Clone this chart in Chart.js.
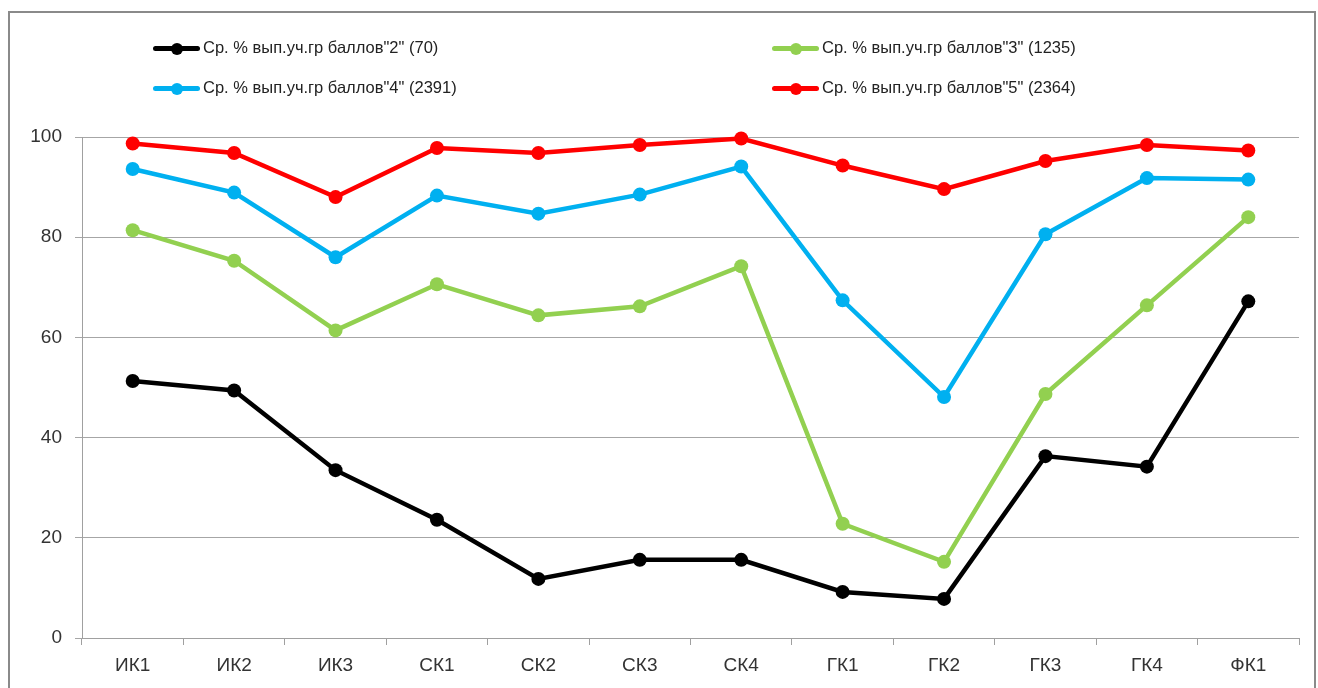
<!DOCTYPE html>
<html>
<head>
<meta charset="utf-8">
<script src="https://cdn.jsdelivr.net/npm/chart.js@4/dist/chart.umd.min.js"></script>
<style>
  html, body { margin: 0; padding: 0; background: #fff; }
  #wrap { position: relative; width: 1318px; height: 688px; overflow: hidden; }
  #frame { position: absolute; left: 8px; top: 11px; width: 1304px; height: 700px; border: 2px solid #8a8a8a; }
  canvas { position: absolute; left: 0; top: 0; }
  .leg { position: absolute; height: 22px; font: 16.5px "Liberation Sans", Arial, sans-serif; color: #222; white-space: nowrap; }
  .leg .ln { position: absolute; left: 0; top: 8px; width: 47px; height: 5px; border-radius: 2.5px; }
  .leg .dot { position: absolute; left: 18px; top: 4.5px; width: 12px; height: 12px; border-radius: 50%; }
  .leg .tx { position: absolute; left: 50px; top: 0px; }
</style>
</head>
<body>
<div id="wrap">
  <div id="frame"></div>
  <canvas id="chart" width="1318" height="688"></canvas>
  <div id="legend"></div>
</div>
<script>
const categories = ['ИК1', 'ИК2', 'ИК3', 'СК1', 'СК2', 'СК3', 'СК4', 'ГК1', 'ГК2', 'ГК3', 'ГК4', 'ФК1'];

const seriesNames = [
  'Ср. % вып.уч.гр баллов"2" (70)',
  'Ср. % вып.уч.гр баллов"3" (1235)',
  'Ср. % вып.уч.гр баллов"4" (2391)',
  'Ср. % вып.уч.гр баллов"5" (2364)'
];

const score2 = [51.3, 49.4, 33.5, 23.6, 11.8, 15.6, 15.6, 9.2, 7.8, 36.3, 34.2, 67.2];
const score3 = [81.4, 75.3, 61.4, 70.6, 64.4, 66.2, 74.2, 22.8, 15.2, 48.7, 66.4, 84.0];
const score4 = [93.6, 88.9, 76.0, 88.3, 84.7, 88.5, 94.1, 67.4, 48.1, 80.6, 91.8, 91.5];
const score5 = [98.7, 96.8, 88.0, 97.8, 96.8, 98.4, 99.7, 94.3, 89.6, 95.2, 98.4, 97.3];

const yTicks = [0, 20, 40, 60, 80, 100];

const colors = ['#000000', '#92D050', '#00B0F0', '#FF0000'];
const allSeries = [score2, score3, score4, score5];

function makeDataset(i) {
  return {
    label: seriesNames[i],
    data: allSeries[i],
    borderColor: colors[i],
    backgroundColor: colors[i],
    borderWidth: 4.5,
    pointRadius: 7,
    pointHoverRadius: 7,
    pointBorderWidth: 0,
    tension: 0,
    clip: false
  };
}

// legend drawn as html, two columns like the original
const legendPos = [
  { left: 153, top: 38 }, // "2"
  { left: 772, top: 38 }, // "3"
  { left: 153, top: 78 }, // "4"
  { left: 772, top: 78 }  // "5"
];
const legendEl = document.getElementById('legend');
seriesNames.forEach((name, i) => {
  const d = document.createElement('div');
  d.className = 'leg';
  d.style.left = legendPos[i].left + 'px';
  d.style.top = legendPos[i].top + 'px';
  d.innerHTML = '<div class="ln" style="background:' + colors[i] + '"></div>' +
    '<div class="dot" style="background:' + colors[i] + '"></div>' +
    '<div class="tx"></div>';
  d.querySelector('.tx').textContent = name;
  legendEl.appendChild(d);
});

const ctx = document.getElementById('chart').getContext('2d');
new Chart(ctx, {
  type: 'line',
  data: {
    labels: categories,
    datasets: [0, 1, 2, 3].map(makeDataset)
  },
  options: {
    responsive: false,
    animation: false,
    layout: { padding: { top: 137, right: 19, bottom: 0, left: 0 } },
    plugins: {
      legend: { display: false },
      tooltip: { enabled: false }
    },
    scales: {
      x: {
        offset: true,
        afterFit: (scale) => { scale.height = 50; },
        grid: {
          offset: true,
          drawOnChartArea: false,
          drawTicks: true,
          tickLength: 7,
          color: '#a0a0a0'
        },
        border: { color: '#a0a0a0', width: 1 },
        ticks: {
          padding: 9,
          color: '#333',
          font: { family: 'Liberation Sans', size: 19 }
        }
      },
      y: {
        min: 0,
        max: 100,
        afterFit: (scale) => { scale.width = 82; },
        afterBuildTicks: (scale) => { scale.ticks = yTicks.map(v => ({ value: v })); },
        grid: {
          color: '#a6a6a6',
          tickLength: 7,
          lineWidth: 1
        },
        border: { color: '#a0a0a0', width: 1 },
        ticks: {
          padding: 13,
          color: '#333',
          font: { family: 'Liberation Sans', size: 19 }
        }
      }
    }
  }
});
</script>
</body>
</html>
